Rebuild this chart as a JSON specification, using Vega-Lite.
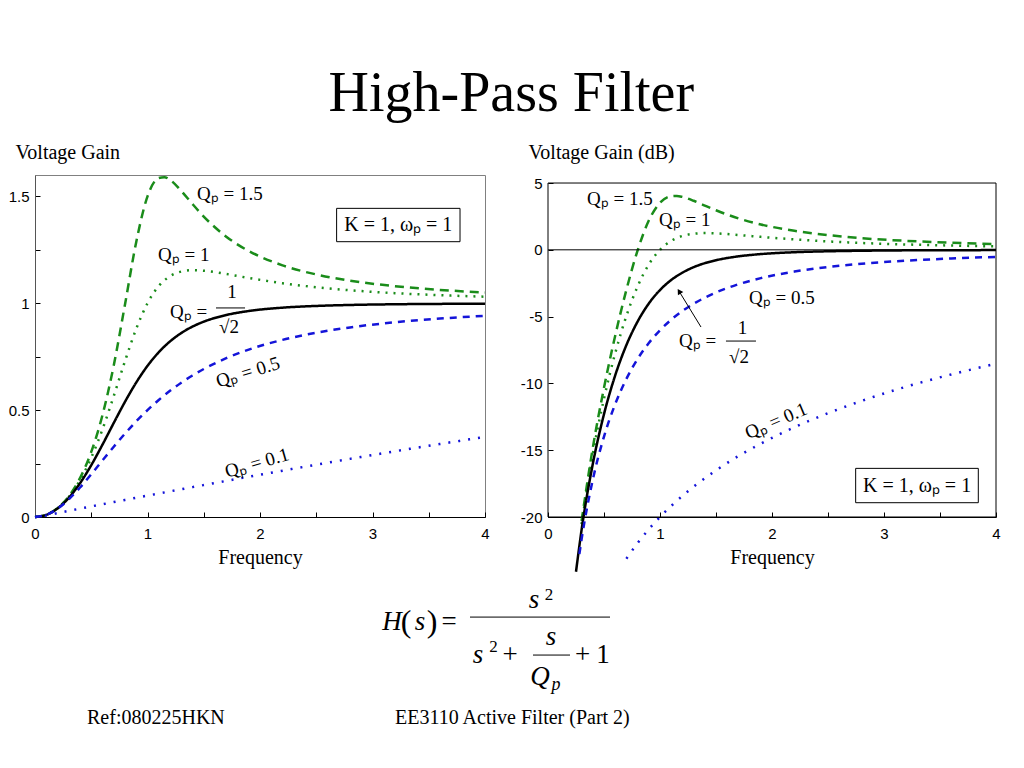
{
  "$schema": "https://vega.github.io/schema/vega-lite/v6.json",
  "background": "white",
  "padding": {"left": 7, "top": 65, "right": 5, "bottom": 5},
  "title": {"text": "High-Pass Filter", "font": "Liberation Serif", "fontSize": 56, "fontWeight": "normal", "anchor": "middle", "offset": 19, "color": "black"},
  "config": {
    "view": {"stroke": null},
    "axis": {"grid": false, "labelColor": "black", "tickColor": "black", "domainColor": "black", "labelFont": "Liberation Sans", "labelFontSize": 15, "titleFont": "Liberation Serif", "titleFontSize": 20, "titleFontWeight": "normal", "titleColor": "black", "tickSize": -5, "labelOverlap": false, "labelFlush": false},
    "text": {"font": "Liberation Serif", "fontSize": 19, "color": "black"}
  },
  "datasets": {
    "curves": [
      {"w":0,"Q":"1.5","mag":0,"db":null},{"w":0.1,"Q":"1.5","mag":0.0101,"db":null},{"w":0.2,"Q":"1.5","mag":0.0413,"db":null},{"w":0.3,"Q":"1.5","mag":0.0966,"db":-20.30},{"w":0.4,"Q":"1.5","mag":0.1816,"db":-14.82},{"w":0.5,"Q":"1.5","mag":0.3046,"db":-10.33},{"w":0.6,"Q":"1.5","mag":0.4770,"db":-6.43},{"w":0.7,"Q":"1.5","mag":0.7088,"db":-2.99},{"w":0.8,"Q":"1.5","mag":0.9946,"db":-0.05},{"w":0.9,"Q":"1.5","mag":1.2870,"db":2.19},{"w":1.0,"Q":"1.5","mag":1.5,"db":3.52},{"w":1.1,"Q":"1.5","mag":1.5862,"db":4.01},{"w":1.15,"Q":"1.5","mag":1.5900,"db":4.03},{"w":1.2,"Q":"1.5","mag":1.5772,"db":3.96},{"w":1.3,"Q":"1.5","mag":1.5256,"db":3.67},{"w":1.4,"Q":"1.5","mag":1.4639,"db":3.31},{"w":1.5,"Q":"1.5","mag":1.4056,"db":2.96},{"w":1.7,"Q":"1.5","mag":1.3114,"db":2.35},{"w":1.9,"Q":"1.5","mag":1.2444,"db":1.90},{"w":2.2,"Q":"1.5","mag":1.1775,"db":1.42},{"w":2.5,"Q":"1.5","mag":1.1347,"db":1.10},{"w":2.8,"Q":"1.5","mag":1.1058,"db":0.87},{"w":3.2,"Q":"1.5","mag":1.0798,"db":0.67},{"w":3.6,"Q":"1.5","mag":1.0624,"db":0.53},{"w":4.0,"Q":"1.5","mag":1.0502,"db":0.43},
      {"w":0,"Q":"1","mag":0,"db":null},{"w":0.1,"Q":"1","mag":0.0101,"db":null},{"w":0.2,"Q":"1","mag":0.0408,"db":null},{"w":0.3,"Q":"1","mag":0.0939,"db":-20.54},{"w":0.4,"Q":"1","mag":0.1720,"db":-15.29},{"w":0.5,"Q":"1","mag":0.2774,"db":-11.14},{"w":0.6,"Q":"1","mag":0.4104,"db":-7.74},{"w":0.7,"Q":"1","mag":0.5658,"db":-4.95},{"w":0.8,"Q":"1","mag":0.7295,"db":-2.74},{"w":0.9,"Q":"1","mag":0.8806,"db":-1.10},{"w":1.0,"Q":"1","mag":1.0,"db":0},{"w":1.1,"Q":"1","mag":1.0805,"db":0.67},{"w":1.2,"Q":"1","mag":1.1267,"db":1.04},{"w":1.3,"Q":"1","mag":1.1483,"db":1.20},{"w":1.4,"Q":"1","mag":1.1546,"db":1.25},{"w":1.5,"Q":"1","mag":1.1523,"db":1.23},{"w":1.7,"Q":"1","mag":1.1369,"db":1.11},{"w":1.9,"Q":"1","mag":1.1182,"db":0.97},{"w":2.2,"Q":"1","mag":1.0937,"db":0.78},{"w":2.5,"Q":"1","mag":1.0748,"db":0.63},{"w":2.8,"Q":"1","mag":1.0608,"db":0.51},{"w":3.2,"Q":"1","mag":1.0472,"db":0.40},{"w":3.6,"Q":"1","mag":1.0376,"db":0.32},{"w":4.0,"Q":"1","mag":1.0307,"db":0.26},
      {"w":0,"Q":"0.707","mag":0,"db":null},{"w":0.1,"Q":"0.707","mag":0.0100,"db":null},{"w":0.2,"Q":"0.707","mag":0.0400,"db":null},{"w":0.25,"Q":"0.707","mag":0.0624,"db":-24.10},{"w":0.3,"Q":"0.707","mag":0.0896,"db":-20.95},{"w":0.4,"Q":"0.707","mag":0.1580,"db":-16.03},{"w":0.5,"Q":"0.707","mag":0.2425,"db":-12.30},{"w":0.6,"Q":"0.707","mag":0.3387,"db":-9.40},{"w":0.7,"Q":"0.707","mag":0.4400,"db":-7.13},{"w":0.8,"Q":"0.707","mag":0.5391,"db":-5.37},{"w":0.9,"Q":"0.707","mag":0.6294,"db":-4.02},{"w":1.0,"Q":"0.707","mag":0.7071,"db":-3.01},{"w":1.1,"Q":"0.707","mag":0.7708,"db":-2.26},{"w":1.2,"Q":"0.707","mag":0.8214,"db":-1.71},{"w":1.3,"Q":"0.707","mag":0.8606,"db":-1.30},{"w":1.4,"Q":"0.707","mag":0.8908,"db":-1.00},{"w":1.5,"Q":"0.707","mag":0.9138,"db":-0.78},{"w":1.7,"Q":"0.707","mag":0.9450,"db":-0.49},{"w":1.9,"Q":"0.707","mag":0.9637,"db":-0.32},{"w":2.2,"Q":"0.707","mag":0.9793,"db":-0.18},{"w":2.5,"Q":"0.707","mag":0.9874,"db":-0.11},{"w":2.8,"Q":"0.707","mag":0.9920,"db":-0.07},{"w":3.2,"Q":"0.707","mag":0.9953,"db":-0.04},{"w":3.6,"Q":"0.707","mag":0.9970,"db":-0.03},{"w":4.0,"Q":"0.707","mag":0.9981,"db":-0.02},
      {"w":0,"Q":"0.5","mag":0,"db":null},{"w":0.1,"Q":"0.5","mag":0.0099,"db":null},{"w":0.2,"Q":"0.5","mag":0.0385,"db":null},{"w":0.28,"Q":"0.5","mag":0.0727,"db":-22.77},{"w":0.3,"Q":"0.5","mag":0.0826,"db":-21.66},{"w":0.4,"Q":"0.5","mag":0.1379,"db":-17.21},{"w":0.5,"Q":"0.5","mag":0.2,"db":-13.98},{"w":0.6,"Q":"0.5","mag":0.2647,"db":-11.55},{"w":0.7,"Q":"0.5","mag":0.3289,"db":-9.66},{"w":0.8,"Q":"0.5","mag":0.3902,"db":-8.17},{"w":0.9,"Q":"0.5","mag":0.4475,"db":-6.98},{"w":1.0,"Q":"0.5","mag":0.5,"db":-6.02},{"w":1.1,"Q":"0.5","mag":0.5475,"db":-5.23},{"w":1.2,"Q":"0.5","mag":0.5902,"db":-4.58},{"w":1.3,"Q":"0.5","mag":0.6283,"db":-4.04},{"w":1.4,"Q":"0.5","mag":0.6622,"db":-3.58},{"w":1.5,"Q":"0.5","mag":0.6923,"db":-3.19},{"w":1.7,"Q":"0.5","mag":0.7429,"db":-2.58},{"w":1.9,"Q":"0.5","mag":0.7831,"db":-2.12},{"w":2.2,"Q":"0.5","mag":0.8288,"db":-1.63},{"w":2.5,"Q":"0.5","mag":0.8621,"db":-1.29},{"w":2.8,"Q":"0.5","mag":0.8869,"db":-1.04},{"w":3.2,"Q":"0.5","mag":0.9110,"db":-0.81},{"w":3.6,"Q":"0.5","mag":0.9284,"db":-0.65},{"w":4.0,"Q":"0.5","mag":0.9412,"db":-0.53},
      {"w":0,"Q":"0.1","mag":0,"db":null},{"w":0.1,"Q":"0.1","mag":0.0071,"db":null},{"w":0.2,"Q":"0.1","mag":0.0180,"db":null},{"w":0.3,"Q":"0.1","mag":0.0287,"db":null},{"w":0.4,"Q":"0.1","mag":0.0392,"db":null},{"w":0.5,"Q":"0.1","mag":0.0495,"db":null},{"w":0.6,"Q":"0.1","mag":0.0597,"db":null},{"w":0.7,"Q":"0.1","mag":0.0698,"db":-23.12},{"w":0.8,"Q":"0.1","mag":0.0799,"db":-21.95},{"w":0.9,"Q":"0.1","mag":0.0900,"db":-20.92},{"w":1.0,"Q":"0.1","mag":0.1,"db":-20.0},{"w":1.1,"Q":"0.1","mag":0.1100,"db":-19.17},{"w":1.2,"Q":"0.1","mag":0.1199,"db":-18.42},{"w":1.3,"Q":"0.1","mag":0.1298,"db":-17.73},{"w":1.4,"Q":"0.1","mag":0.1397,"db":-17.10},{"w":1.5,"Q":"0.1","mag":0.1495,"db":-16.51},{"w":1.7,"Q":"0.1","mag":0.1690,"db":-15.44},{"w":1.9,"Q":"0.1","mag":0.1882,"db":-14.51},{"w":2.2,"Q":"0.1","mag":0.2167,"db":-13.28},{"w":2.5,"Q":"0.1","mag":0.2447,"db":-12.23},{"w":2.8,"Q":"0.1","mag":0.2720,"db":-11.31},{"w":3.2,"Q":"0.1","mag":0.3074,"db":-10.24},{"w":3.6,"Q":"0.1","mag":0.3416,"db":-9.33},{"w":4.0,"Q":"0.1","mag":0.3745,"db":-8.53}
    ],
    "one": [{}]
  },
  "vconcat": [
    {
      "spacing": 29,
      "hconcat": [
        {
          "width": 450, "height": 342,
          "view": {"stroke": "#808080"},
          "layer": [
            {
              "data": {"name": "curves"},
              "mark": {"type": "line", "strokeWidth": 2.5, "interpolate": "monotone"},
              "encoding": {
                "x": {"field": "w", "type": "quantitative", "scale": {"domain": [0, 4], "nice": false}, "axis": {"values": [0,0.5,1,1.5,2,2.5,3,3.5,4], "labelExpr": "datum.value % 1 === 0 ? '' + datum.value : ''", "labelPadding": 14, "title": "Frequency", "titlePadding": 6}},
                "y": {"field": "mag", "type": "quantitative", "scale": {"domain": [0, 1.6], "nice": false}, "axis": {"values": [0,0.25,0.5,0.75,1,1.25,1.5], "labelExpr": "datum.value % 0.5 === 0 ? '' + datum.value : ''", "labelPadding": 11, "domainColor": "#555555", "title": "Voltage Gain", "titleAngle": 0, "titleAlign": "left", "titleBaseline": "alphabetic", "titleX": -20, "titleY": -17}},
                "color": {"field": "Q", "type": "nominal", "scale": {"domain": ["1.5","1","0.707","0.5","0.1"], "range": ["#1a8c1a","#1a8c1a","#000000","#1414d9","#1414d9"]}, "legend": null},
                "strokeDash": {"field": "Q", "type": "nominal", "scale": {"domain": ["1.5","1","0.707","0.5","0.1"], "range": [[9,6],[2,6],[1,0],[7,6],[2,8]]}, "legend": null}
              }
            },
            {"data": {"name": "one"}, "mark": {"type": "text", "text": "Qₚ = 1.5", "align": "left", "baseline": "middle"}, "encoding": {"x": {"datum": 1.44}, "y": {"datum": 1.511}}},
            {"data": {"name": "one"}, "mark": {"type": "text", "text": "Qₚ = 1", "align": "left", "baseline": "middle"}, "encoding": {"x": {"datum": 1.093}, "y": {"datum": 1.226}}},
            {"data": {"name": "one"}, "mark": {"type": "text", "text": "Qₚ =", "align": "left", "baseline": "middle"}, "encoding": {"x": {"datum": 1.2}, "y": {"datum": 0.959}}},
            {"data": {"name": "one"}, "mark": {"type": "text", "text": "1", "align": "center", "baseline": "middle"}, "encoding": {"x": {"datum": 1.751}, "y": {"datum": 1.053}}},
            {"data": {"name": "one"}, "mark": {"type": "text", "text": "√2", "align": "center", "baseline": "middle"}, "encoding": {"x": {"datum": 1.724}, "y": {"datum": 0.889}}},
            {"data": {"name": "one"}, "mark": {"type": "rule", "strokeWidth": 1, "color": "black"}, "encoding": {"x": {"datum": 1.609}, "x2": {"datum": 1.867}, "y": {"datum": 0.978}}},
            {"data": {"name": "one"}, "mark": {"type": "text", "text": "Qₚ = 0.5", "align": "center", "baseline": "middle", "angle": -17}, "encoding": {"x": {"datum": 1.893}, "y": {"datum": 0.678}}},
            {"data": {"name": "one"}, "mark": {"type": "text", "text": "Qₚ = 0.1", "align": "center", "baseline": "middle", "angle": -16}, "encoding": {"x": {"datum": 1.973}, "y": {"datum": 0.253}}},
            {"data": {"name": "one"}, "mark": {"type": "rect", "fill": "white", "stroke": "black", "strokeWidth": 1}, "encoding": {"x": {"datum": 2.681}, "x2": {"datum": 3.778}, "y": {"datum": 1.288}, "y2": {"datum": 1.444}}},
            {"data": {"name": "one"}, "mark": {"type": "text", "text": "K = 1, ωₚ = 1", "align": "center", "baseline": "middle", "fontSize": 20}, "encoding": {"x": {"datum": 3.229}, "y": {"datum": 1.366}}}
          ]
        },
        {
          "width": 448, "height": 342,
          "view": {"stroke": null},
          "layer": [
            {
              "data": {"name": "curves"},
              "transform": [{"filter": "datum.db != null"}],
              "mark": {"type": "line", "strokeWidth": 2.5, "interpolate": "monotone"},
              "encoding": {
                "x": {"field": "w", "type": "quantitative", "scale": {"domain": [0, 4], "nice": false}, "axis": {"values": [0,0.5,1,1.5,2,2.5,3,3.5,4], "labelExpr": "datum.value % 1 === 0 ? '' + datum.value : ''", "labelPadding": 14, "title": "Frequency", "titlePadding": 6}},
                "y": {"field": "db", "type": "quantitative", "scale": {"domain": [-20, 5.6], "nice": false}, "axis": {"values": [-20,-17.5,-15,-12.5,-10,-7.5,-5,-2.5,0,2.5,5], "domain": false, "labelExpr": "datum.value % 5 === 0 ? '' + datum.value : ''", "labelPadding": 11, "title": "Voltage Gain (dB)", "titleAngle": 0, "titleAlign": "left", "titleBaseline": "alphabetic", "titleX": -20, "titleY": -17}},
                "color": {"field": "Q", "type": "nominal", "scale": {"domain": ["1.5","1","0.707","0.5","0.1"], "range": ["#1a8c1a","#1a8c1a","#000000","#1414d9","#1414d9"]}, "legend": null},
                "strokeDash": {"field": "Q", "type": "nominal", "scale": {"domain": ["1.5","1","0.707","0.5","0.1"], "range": [[9,6],[2,6],[1,0],[7,6],[2,8]]}, "legend": null}
              }
            },
            {"data": {"name": "one"}, "mark": {"type": "rect", "fillOpacity": 0, "fill": "white", "stroke": "black", "strokeWidth": 1}, "encoding": {"x": {"datum": 0}, "x2": {"datum": 4}, "y": {"datum": -20}, "y2": {"datum": 5}}},
            {"data": {"name": "one"}, "mark": {"type": "rule", "strokeWidth": 1, "color": "black"}, "encoding": {"y": {"datum": 0}}},
            {"data": {"name": "one"}, "mark": {"type": "text", "text": "Qₚ = 1.5", "align": "left", "baseline": "middle"}, "encoding": {"x": {"datum": 0.348}, "y": {"datum": 3.8}}},
            {"data": {"name": "one"}, "mark": {"type": "text", "text": "Qₚ = 1", "align": "left", "baseline": "middle"}, "encoding": {"x": {"datum": 0.991}, "y": {"datum": 2.23}}},
            {"data": {"name": "one"}, "mark": {"type": "text", "text": "Qₚ = 0.5", "align": "left", "baseline": "middle"}, "encoding": {"x": {"datum": 1.795}, "y": {"datum": -3.61}}},
            {"data": {"name": "one"}, "mark": {"type": "text", "text": "Qₚ =", "align": "left", "baseline": "middle"}, "encoding": {"x": {"datum": 1.17}, "y": {"datum": -6.83}}},
            {"data": {"name": "one"}, "mark": {"type": "text", "text": "1", "align": "center", "baseline": "middle"}, "encoding": {"x": {"datum": 1.737}, "y": {"datum": -5.85}}},
            {"data": {"name": "one"}, "mark": {"type": "text", "text": "√2", "align": "center", "baseline": "middle"}, "encoding": {"x": {"datum": 1.705}, "y": {"datum": -8.02}}},
            {"data": {"name": "one"}, "mark": {"type": "rule", "strokeWidth": 1, "color": "black"}, "encoding": {"x": {"datum": 1.589}, "x2": {"datum": 1.857}, "y": {"datum": -6.83}}},
            {"data": {"name": "one"}, "mark": {"type": "rule", "strokeWidth": 1, "color": "black"}, "encoding": {"x": {"datum": 1.366}, "x2": {"datum": 1.171}, "y": {"datum": -5.78}, "y2": {"datum": -3.11}}},
            {"data": {"name": "one"}, "mark": {"type": "point", "shape": "triangle-up", "filled": true, "color": "black", "size": 40, "angle": -32, "opacity": 1}, "encoding": {"x": {"datum": 1.171}, "y": {"datum": -3.11}}},
            {"data": {"name": "one"}, "mark": {"type": "text", "text": "Qₚ = 0.1", "align": "center", "baseline": "middle", "angle": -23}, "encoding": {"x": {"datum": 2.036}, "y": {"datum": -12.81}}},
            {"data": {"name": "one"}, "mark": {"type": "rect", "fill": "white", "stroke": "black", "strokeWidth": 1}, "encoding": {"x": {"datum": 2.747}, "x2": {"datum": 3.842}, "y": {"datum": -18.93}, "y2": {"datum": -16.36}}},
            {"data": {"name": "one"}, "mark": {"type": "text", "text": "K = 1, ωₚ = 1", "align": "center", "baseline": "middle", "fontSize": 20}, "encoding": {"x": {"datum": 3.295}, "y": {"datum": -17.65}}}
          ]
        }
      ]
    },
    {
      "width": 980, "height": 180,
      "data": {"name": "one"},
      "layer": [
        {"mark": {"type": "text", "text": "H", "fontStyle": "italic", "fontSize": 27, "align": "center", "baseline": "alphabetic"}, "encoding": {"x": {"datum": 35.7, "scale": {"domain": [0, 98]}, "axis": null}, "y": {"datum": 27.8, "scale": {"domain": [0, 100], "reverse": true}, "axis": null}}},
        {"mark": {"type": "text", "text": "(", "fontSize": 32, "align": "center", "baseline": "alphabetic"}, "encoding": {"x": {"datum": 37.1, "scale": {"domain": [0, 98]}, "axis": null}, "y": {"datum": 28.9, "scale": {"domain": [0, 100], "reverse": true}, "axis": null}}},
        {"mark": {"type": "text", "text": "s", "fontStyle": "italic", "fontSize": 27, "align": "center", "baseline": "alphabetic"}, "encoding": {"x": {"datum": 38.5, "scale": {"domain": [0, 98]}, "axis": null}, "y": {"datum": 27.8, "scale": {"domain": [0, 100], "reverse": true}, "axis": null}}},
        {"mark": {"type": "text", "text": ")", "fontSize": 32, "align": "center", "baseline": "alphabetic"}, "encoding": {"x": {"datum": 39.7, "scale": {"domain": [0, 98]}, "axis": null}, "y": {"datum": 28.9, "scale": {"domain": [0, 100], "reverse": true}, "axis": null}}},
        {"mark": {"type": "text", "text": "=", "fontSize": 27, "align": "center", "baseline": "alphabetic"}, "encoding": {"x": {"datum": 41.4, "scale": {"domain": [0, 98]}, "axis": null}, "y": {"datum": 27.8, "scale": {"domain": [0, 100], "reverse": true}, "axis": null}}},
        {"mark": {"type": "rule", "strokeWidth": 1, "color": "black"}, "encoding": {"x": {"datum": 43.5, "scale": {"domain": [0, 98]}, "axis": null}, "x2": {"datum": 57.5}, "y": {"datum": 20.6, "scale": {"domain": [0, 100], "reverse": true}, "axis": null}}},
        {"mark": {"type": "text", "text": "s", "fontStyle": "italic", "fontSize": 27, "align": "center", "baseline": "alphabetic"}, "encoding": {"x": {"datum": 49.9, "scale": {"domain": [0, 98]}, "axis": null}, "y": {"datum": 15.6, "scale": {"domain": [0, 100], "reverse": true}, "axis": null}}},
        {"mark": {"type": "text", "text": "2", "fontSize": 17, "align": "center", "baseline": "alphabetic"}, "encoding": {"x": {"datum": 51.4, "scale": {"domain": [0, 98]}, "axis": null}, "y": {"datum": 11.1, "scale": {"domain": [0, 100], "reverse": true}, "axis": null}}},
        {"mark": {"type": "text", "text": "s", "fontStyle": "italic", "fontSize": 27, "align": "center", "baseline": "alphabetic"}, "encoding": {"x": {"datum": 44.3, "scale": {"domain": [0, 98]}, "axis": null}, "y": {"datum": 46.1, "scale": {"domain": [0, 100], "reverse": true}, "axis": null}}},
        {"mark": {"type": "text", "text": "2", "fontSize": 17, "align": "center", "baseline": "alphabetic"}, "encoding": {"x": {"datum": 45.85, "scale": {"domain": [0, 98]}, "axis": null}, "y": {"datum": 40, "scale": {"domain": [0, 100], "reverse": true}, "axis": null}}},
        {"mark": {"type": "text", "text": "+", "fontSize": 27, "align": "center", "baseline": "alphabetic"}, "encoding": {"x": {"datum": 47.5, "scale": {"domain": [0, 98]}, "axis": null}, "y": {"datum": 46.1, "scale": {"domain": [0, 100], "reverse": true}, "axis": null}}},
        {"mark": {"type": "text", "text": "s", "fontStyle": "italic", "fontSize": 27, "align": "center", "baseline": "alphabetic"}, "encoding": {"x": {"datum": 51.6, "scale": {"domain": [0, 98]}, "axis": null}, "y": {"datum": 36.1, "scale": {"domain": [0, 100], "reverse": true}, "axis": null}}},
        {"mark": {"type": "rule", "strokeWidth": 1, "color": "black"}, "encoding": {"x": {"datum": 49.8, "scale": {"domain": [0, 98]}, "axis": null}, "x2": {"datum": 53.5}, "y": {"datum": 41.7, "scale": {"domain": [0, 100], "reverse": true}, "axis": null}}},
        {"mark": {"type": "text", "text": "Q", "fontStyle": "italic", "fontSize": 27, "align": "center", "baseline": "alphabetic"}, "encoding": {"x": {"datum": 50.5, "scale": {"domain": [0, 98]}, "axis": null}, "y": {"datum": 58.3, "scale": {"domain": [0, 100], "reverse": true}, "axis": null}}},
        {"mark": {"type": "text", "text": "p", "fontStyle": "italic", "fontSize": 18, "align": "center", "baseline": "alphabetic"}, "encoding": {"x": {"datum": 52.1, "scale": {"domain": [0, 98]}, "axis": null}, "y": {"datum": 61.1, "scale": {"domain": [0, 100], "reverse": true}, "axis": null}}},
        {"mark": {"type": "text", "text": "+", "fontSize": 27, "align": "center", "baseline": "alphabetic"}, "encoding": {"x": {"datum": 54.75, "scale": {"domain": [0, 98]}, "axis": null}, "y": {"datum": 46.1, "scale": {"domain": [0, 100], "reverse": true}, "axis": null}}},
        {"mark": {"type": "text", "text": "1", "fontSize": 27, "align": "center", "baseline": "alphabetic"}, "encoding": {"x": {"datum": 56.8, "scale": {"domain": [0, 98]}, "axis": null}, "y": {"datum": 46.1, "scale": {"domain": [0, 100], "reverse": true}, "axis": null}}},
        {"mark": {"type": "text", "text": "Ref:080225HKN", "fontSize": 20, "align": "left", "baseline": "alphabetic"}, "encoding": {"x": {"datum": 5.2, "scale": {"domain": [0, 98]}, "axis": null}, "y": {"datum": 80, "scale": {"domain": [0, 100], "reverse": true}, "axis": null}}},
        {"mark": {"type": "text", "text": "EE3110 Active Filter (Part 2)", "fontSize": 20, "align": "left", "baseline": "alphabetic"}, "encoding": {"x": {"datum": 36, "scale": {"domain": [0, 98]}, "axis": null}, "y": {"datum": 80, "scale": {"domain": [0, 100], "reverse": true}, "axis": null}}}
      ]
    }
  ],
  "spacing": 3
}
